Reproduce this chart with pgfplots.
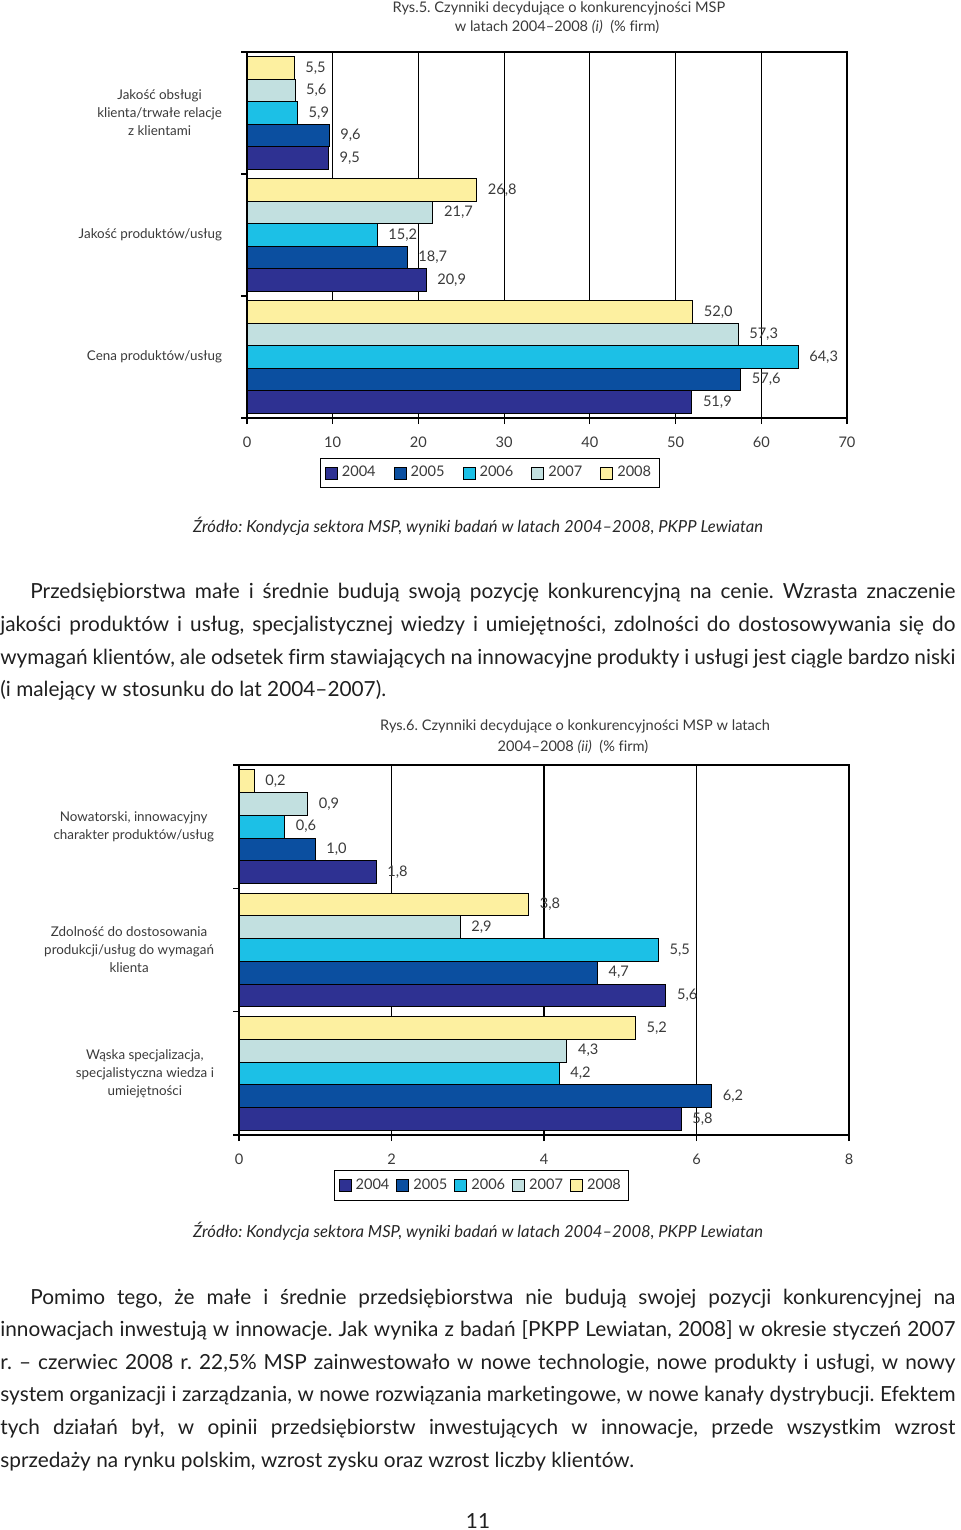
\documentclass[border=0pt]{standalone}
\usepackage{pgfplots}
\pgfplotsset{compat=1.18}
\usepackage{fontspec}
\setmainfont{Lato}[Ligatures=CommonOff]
\frenchspacing
\definecolor{c04}{HTML}{2E3192}
\definecolor{c05}{HTML}{0B4FA0}
\definecolor{c06}{HTML}{1CC0E6}
\definecolor{c07}{HTML}{C2E0E0}
\definecolor{c08}{HTML}{FDF0A0}
\definecolor{txt}{HTML}{3A3A3A}
\newcommand\cf{\fontsize{7.3}{9.6}\selectfont}
\newcommand\lf{\fontsize{6.7}{9}\selectfont}
\newcommand\pf{\fontsize{10.4}{12}\selectfont}
\newcommand\srcf{\fontsize{8.3}{10}\selectfont\itshape}
\pgfplotsset{
  sq/.style={legend image code/.code={\draw[##1] (0pt,-3pt) rectangle (6pt,3pt);}},
  mychart/.style={
    scale only axis, xbar, bar width=0.184,
    ymin=-0.5, ymax=2.5, xmin=0,
    axis line style={black, line width=0.6pt},
    tick align=outside, xtick pos=bottom, ytick pos=left,
    ytick={-0.5,0.5,1.5,2.5}, yticklabels={},
    major tick length=3pt,
    tick style={black, line width=0.6pt},
    xmajorgrids, ymajorgrids=false,
    major grid style={black, line width=0.6pt},
    extra y tick style={grid=none, tick style={draw=none},
       yticklabel style={align=center, font=\lf, text=txt, xshift=-6pt}},
    ticklabel style={font=\cf, text=txt},
    xticklabel style={yshift=-3pt},
    /pgf/number format/assume math mode=true,
    nodes near coords={\pgfmathprintnumber[fixed,fixed zerofill,precision=1,use comma,assume math mode=true]{\pgfplotspointmeta}},
    every node near coord/.append style={font=\cf, text=txt, anchor=west, xshift=2pt},
    legend columns=-1,
    legend style={draw=black, line width=0.5pt, fill=white, font=\cf, text=txt,
      /tikz/every even column/.append style={column sep=7pt}, inner sep=2pt},
  },
  bb/.style={draw=black, line width=0.5pt, sq},
}
\begin{document}
\begin{tikzpicture}
\useasboundingbox (0pt,0pt) rectangle (480pt,-765pt);
% ---------- titles ----------
\node[anchor=base, inner sep=0, font=\cf, text=txt] at (279.5pt,-6.5pt) {Rys.5. Czynniki decydujące o konkurencyjności MSP};
\node[anchor=base, inner sep=0, font=\cf, text=txt] at (278.5pt,-16pt) {w latach 2004–2008 \textit{(i)} \ (\% firm)};
% ---------- chart 1 ----------
\begin{axis}[mychart, at={(123.5pt,-209pt)}, anchor=south west,
  width=300pt, height=183pt, xmax=70, xtick={0,10,...,70},
  extra y ticks={0,1,2},
  extra y tick labels={Cena produktów/usług, Jakość produktów/usług, {Jakość obsługi\\klienta/trwałe relacje\\z klientami}},
  legend style={at={(0.405,-0.109)}, anchor=north}]
\addplot[bb, fill=c04, bar shift=-0.368] coordinates {(51.9,0) (20.9,1) (9.5,2)};
\addplot[bb, fill=c05, bar shift=-0.184] coordinates {(57.6,0) (18.7,1) (9.6,2)};
\addplot[bb, fill=c06, bar shift=0] coordinates {(64.3,0) (15.2,1) (5.9,2)};
\addplot[bb, fill=c07, bar shift=0.184] coordinates {(57.3,0) (21.7,1) (5.6,2)};
\addplot[bb, fill=c08, bar shift=0.368] coordinates {(52.0,0) (26.8,1) (5.5,2)};
\legend{2004,2005,2006,2007,2008}
\end{axis}
\node[anchor=base, inner sep=0, font=\srcf, text=black!85] at (239pt,-266pt) {Źródło: Kondycja sektora MSP, wyniki badań w latach 2004–2008, PKPP Lewiatan};
% ---------- paragraph 1 ----------
\node[anchor=base west, inner sep=0, font=\pf, text=black!88] at (15pt,-299pt) {\makebox[462.5pt][s]{Przedsiębiorstwa małe i średnie budują swoją pozycję konkurencyjną na cenie. Wzrasta znaczenie}};
\node[anchor=base west, inner sep=0, font=\pf, text=black!88] at (0pt,-315.5pt) {\makebox[477.5pt][s]{jakości produktów i usług, specjalistycznej wiedzy i umiejętności, zdolności do dostosowywania się do}};
\node[anchor=base west, inner sep=0, font=\pf, text=black!88] at (0pt,-332pt) {\makebox[477.5pt][s]{wymagań klientów, ale odsetek firm stawiających na innowacyjne produkty i usługi jest ciągle bardzo niski}};
\node[anchor=base west, inner sep=0, font=\pf, text=black!88] at (0pt,-348pt) {(i malejący w stosunku do lat 2004–2007).};
% ---------- title 2 ----------
\node[anchor=base, inner sep=0, font=\cf, text=txt] at (287.5pt,-365pt) {Rys.6. Czynniki decydujące o konkurencyjności MSP w latach};
\node[anchor=base, inner sep=0, font=\cf, text=txt] at (286.5pt,-375.5pt) {2004–2008 \textit{(ii)} \ (\% firm)};
% ---------- chart 2 ----------
\begin{axis}[mychart, at={(119.5pt,-567.5pt)}, anchor=south west,
  width=305pt, height=185pt, xmax=8, xtick={0,2,...,8},
  extra y ticks={0,1,2},
  extra y tick labels={{Wąska specjalizacja,\\specjalistyczna wiedza i\\umiejętności}, {Zdolność do dostosowania\\produkcji/usług do wymagań\\klienta}, {Nowatorski, innowacyjny\\charakter produktów/usług}},
  legend style={at={(0.398,-0.095)}, anchor=north, /tikz/every even column/.append style={column sep=1.5pt}}]
\addplot[bb, fill=c04, bar shift=-0.368] coordinates {(5.8,0) (5.6,1) (1.8,2)};
\addplot[bb, fill=c05, bar shift=-0.184] coordinates {(6.2,0) (4.7,1) (1.0,2)};
\addplot[bb, fill=c06, bar shift=0] coordinates {(4.2,0) (5.5,1) (0.6,2)};
\addplot[bb, fill=c07, bar shift=0.184] coordinates {(4.3,0) (2.9,1) (0.9,2)};
\addplot[bb, fill=c08, bar shift=0.368] coordinates {(5.2,0) (3.8,1) (0.2,2)};
\legend{2004,2005,2006,2007,2008}
\end{axis}
\node[anchor=base, inner sep=0, font=\srcf, text=black!85] at (239pt,-618.5pt) {Źródło: Kondycja sektora MSP, wyniki badań w latach 2004–2008, PKPP Lewiatan};
% ---------- paragraph 2 ----------
\node[anchor=base west, inner sep=0, font=\pf, text=black!88] at (15pt,-652pt) {\makebox[462.5pt][s]{Pomimo tego, że małe i średnie przedsiębiorstwa nie budują swojej pozycji konkurencyjnej na}};
\node[anchor=base west, inner sep=0, font=\pf, text=black!88] at (0pt,-668pt) {\makebox[477.5pt][s]{innowacjach inwestują w innowacje. Jak wynika z badań [PKPP Lewiatan, 2008] w okresie styczeń 2007}};
\node[anchor=base west, inner sep=0, font=\pf, text=black!88] at (0pt,-684.5pt) {\makebox[477.5pt][s]{r. – czerwiec 2008 r. 22,5\% MSP zainwestowało w nowe technologie, nowe produkty i usługi, w nowy}};
\node[anchor=base west, inner sep=0, font=\pf, text=black!88] at (0pt,-700.5pt) {\makebox[477.5pt][s]{system organizacji i zarządzania, w nowe rozwiązania marketingowe, w nowe kanały dystrybucji. Efektem}};
\node[anchor=base west, inner sep=0, font=\pf, text=black!88] at (0pt,-717pt) {\makebox[477.5pt][s]{tych działań był, w opinii przedsiębiorstw inwestujących w innowacje, przede wszystkim wzrost}};
\node[anchor=base west, inner sep=0, font=\pf, text=black!88] at (0pt,-733.5pt) {sprzedaży na rynku polskim, wzrost zysku oraz wzrost liczby klientów.};
\node[anchor=base, inner sep=0, font=\pf, text=black!88] at (239pt,-764pt) {11};
\end{tikzpicture}
\end{document}
